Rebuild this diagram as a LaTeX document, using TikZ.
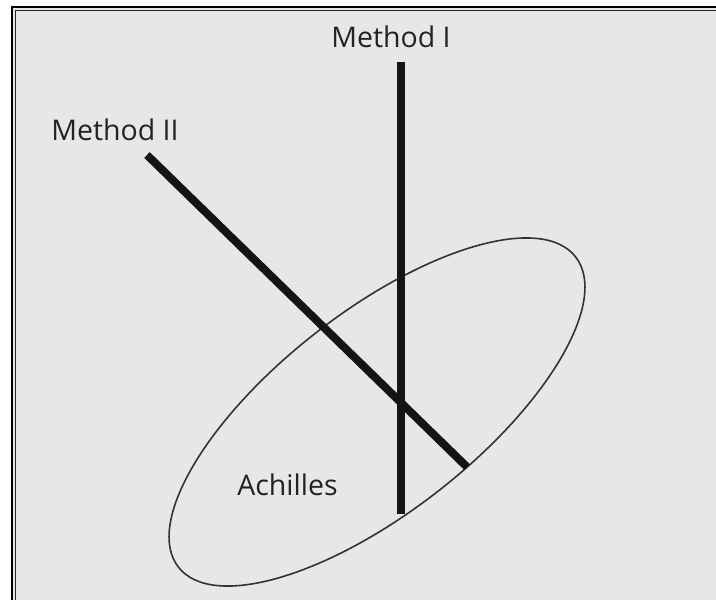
\documentclass[tikz,border=0pt]{standalone}
\usepackage{fontspec}
\setmainfont{Open Sans}
\usetikzlibrary{shapes.geometric}
\definecolor{bggray}{RGB}{230,231,233}
\definecolor{txtgray}{RGB}{35,35,35}
\tikzset{
  lbl/.style={anchor=base, text=txtgray, inner sep=0pt, font=\fontsize{28.5}{32}\selectfont},
  bar/.style={line width=8pt, black!92},
}
\begin{document}
\begin{tikzpicture}[x=1pt,y=-1pt]
\useasboundingbox (0,0) rectangle (716,600);
\fill[white] (0,0) rectangle (716,600);
\fill[bggray] (12,7) rectangle (720,604);
\draw[black, line width=2pt] (12,604) -- (12,7) -- (720,7);
\draw[black!85, line width=1.5pt] (15.5,604) -- (15.5,10.5) -- (720,10.5);
\node[draw=black!80, ellipse, minimum width=504pt, minimum height=200pt, rotate=38, inner sep=0pt, line width=1.6pt] (ach) at (377,412) {};
\coordinate (m1top) at (401,62);
\coordinate (m1bot) at (401,514);
\coordinate (m2top) at (147,155);
\coordinate (m2bot) at (467,467);
\draw[bar] (m2top) -- (m2bot);
\draw[bar] (m1top) -- (m1bot);
\node[lbl] (m1) at (391,47) {Method I};
\node[lbl] (m2) at (115,140) {Method II};
\node[lbl] (achl) at (287.5,495) {Achilles};
\end{tikzpicture}
\end{document}
